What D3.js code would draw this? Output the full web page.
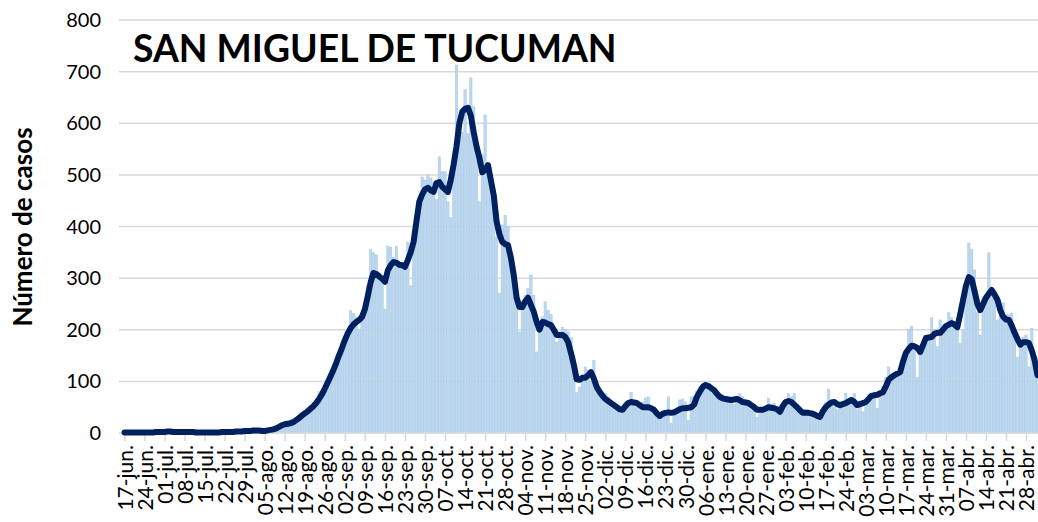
<!DOCTYPE html>
<html>
<head>
<meta charset="utf-8">
<script src="https://cdn.jsdelivr.net/npm/d3@7"></script>
<style>
  body { margin: 0; background: #fff; }
  svg { display: block; font-family: Lato, 'Open Sans', sans-serif; }
</style>
</head>
<body>
<svg id="chart" width="1038" height="522"></svg>
<script>
// daily confirmed cases, starting 17-jun-2020
const startDate = '2020-06-17';

const dailyCases = [
  0, 1, 2, 0, 1, 2, 1,
  1, 0, 2, 1, 3, 2, 1,
  3, 4, 2, 1, 2, 3, 2,
  2, 1, 3, 2, 1, 0, 1,
  1, 2, 0, 1, 1, 2, 3,
  2, 3, 1, 4, 3, 2, 5,
  6, 4, 3, 7, 5, 4, 3,
  5, 4, 8, 7, 10, 14, 16,
  18, 17, 20, 22, 28, 30, 38,
  36, 45, 48, 55, 60, 80, 72,
  90, 95, 115, 120, 140, 150, 170,
  185, 195, 237, 232, 225, 200, 230,
  250, 285, 355, 350, 345, 310, 290,
  240, 362, 360, 340, 362, 325, 320,
  318, 370, 285, 365, 418, 442, 496,
  490, 500, 494, 486, 453, 535, 506,
  506, 448, 417, 539, 713, 600, 583,
  665, 580, 688, 632, 560, 448, 539,
  616, 520, 475, 455, 380, 271, 403,
  422, 400, 345, 300, 267, 196, 254,
  267, 280, 306, 267, 157, 215, 225,
  254, 238, 230, 196, 176, 190, 205,
  200, 196, 185, 150, 78, 89, 103,
  128, 122, 100, 141, 83, 75, 68,
  77, 70, 55, 48, 50, 40, 50,
  58, 60, 79, 55, 50, 52, 60,
  68, 70, 45, 39, 36, 31, 35,
  40, 70, 19, 45, 45, 64, 66,
  60, 25, 70, 70, 80, 89, 95,
  99, 95, 88, 77, 75, 70, 74,
  68, 64, 60, 55, 62, 76, 70,
  64, 58, 55, 50, 31, 40, 45,
  50, 68, 55, 58, 41, 38, 45,
  62, 76, 70, 76, 55, 50, 45,
  45, 41, 39, 38, 36, 25, 45,
  60, 85, 58, 50, 45, 55, 60,
  77, 60, 64, 77, 45, 50, 41,
  55, 74, 70, 77, 48, 77, 90,
  107, 128, 110, 116, 118, 125, 136,
  150, 200, 207, 160, 108, 167, 170,
  174, 185, 223, 200, 167, 219, 205,
  210, 233, 223, 215, 200, 174, 200,
  280, 368, 355, 316, 233, 190, 262,
  262, 349, 280, 264, 219, 240, 252,
  230, 229, 232, 200, 147, 170, 186,
  190, 128, 203, 150, 116
];

// 7-day moving average
const movingAvg = [
  1, 1, 1, 1, 1, 1, 1,
  1, 1, 1, 1, 2, 2, 2,
  2, 3, 3, 2, 2, 2, 2,
  2, 2, 2, 2, 1, 1, 1,
  1, 1, 1, 1, 1, 1, 2,
  2, 2, 2, 2, 3, 3, 3,
  4, 4, 4, 5, 5, 5, 4,
  4, 5, 6, 7, 9, 12, 15,
  17, 18, 19, 21, 25, 29, 34,
  38, 42, 47, 52, 58, 66, 75,
  86, 98, 110, 122, 136, 151, 165,
  180, 193, 203, 210, 215, 219, 225,
  240, 265, 292, 310, 308, 303, 299,
  293, 315, 325, 331, 330, 326, 325,
  322, 335, 350, 370, 410, 448, 462,
  472, 475, 470, 467, 484, 486, 477,
  472, 467, 490, 520, 555, 600, 622,
  628, 630, 615, 583, 555, 533, 505,
  510, 519, 490, 461, 410, 385, 370,
  366, 364, 340, 306, 262, 244, 244,
  255, 262, 248, 235, 215, 200, 215,
  214, 211, 209, 200, 190, 190, 190,
  186, 176, 155, 132, 104, 103, 107,
  107, 112, 118, 105, 89, 80, 72,
  66, 62, 58, 54, 50, 46, 45,
  52, 58, 60, 59, 58, 54, 50,
  50, 50, 48, 45, 38, 33, 37,
  39, 40, 39, 40, 43, 46, 48,
  48, 49, 50, 55, 70, 80, 89,
  93, 91, 87, 83, 76, 70, 67,
  66, 65, 64, 65, 66, 63, 60,
  59, 58, 54, 50, 45, 45, 45,
  47, 50, 49, 48, 46, 41, 52,
  60, 62, 60, 55, 50, 44, 39,
  39, 39, 38, 36, 33, 31, 42,
  50, 55, 59, 60, 56, 54, 56,
  58, 61, 64, 60, 54, 56, 58,
  60, 66, 72, 73, 74, 77, 79,
  90, 103, 108, 112, 115, 118, 138,
  155, 163, 169, 168, 165, 157, 170,
  184, 185, 186, 192, 194, 194, 200,
  207, 210, 213, 210, 205, 230, 258,
  285, 302, 298, 275, 250, 238, 250,
  262, 270, 277, 268, 258, 238, 225,
  220, 219, 208, 194, 182, 171, 176,
  176, 174, 160, 141, 112
];

const tickLabels = [
  '17-jun.', '24-jun.', '01-jul.', '08-jul.', '15-jul.', '22-jul.', '29-jul.',
  '05-ago.', '12-ago.', '19-ago.', '26-ago.', '02-sep.', '09-sep.', '16-sep.',
  '23-sep.', '30-sep.', '07-oct.', '14-oct.', '21-oct.', '28-oct.', '04-nov.',
  '11-nov.', '18-nov.', '25-nov.', '02-dic.', '09-dic.', '16-dic.', '23-dic.',
  '30-dic.', '06-ene.', '13-ene.', '20-ene.', '27-ene.', '03-feb.', '10-feb.',
  '17-feb.', '24-feb.', '03-mar.', '10-mar.', '17-mar.', '24-mar.', '31-mar.',
  '07-abr.', '14-abr.', '21-abr.', '28-abr.'
];

const yTicks = [0, 100, 200, 300, 400, 500, 600, 700, 800];

const svg = d3.select('#chart');
const start = new Date(startDate + 'T00:00:00Z');
const days = dailyCases.map((v, i) => d3.utcDay.offset(start, i));
const tickDates = tickLabels.map((l, i) => d3.utcDay.offset(start, i * 7));

const x = d3.scaleUtc()
  .domain([start, days[days.length - 1]])
  .range([124.5, 1037.5]);

const y = d3.scaleLinear()
  .domain([0, 800])
  .range([433, 20]);

const step = x(days[1]) - x(days[0]);

// gridlines
svg.append('g')
  .selectAll('line')
  .data(yTicks.slice(1))
  .join('line')
  .attr('x1', 119)
  .attr('x2', 1038)
  .attr('y1', d => y(d))
  .attr('y2', d => y(d))
  .attr('stroke', '#d9d9d9')
  .attr('stroke-width', 1.5);

// y tick labels
svg.append('g')
  .selectAll('text')
  .data(yTicks)
  .join('text')
  .attr('x', 101)
  .attr('y', d => y(d))
  .attr('dy', '0.35em')
  .attr('text-anchor', 'end')
  .attr('font-size', 20)
  .attr('fill', '#000')
  .text(d => d);

// daily bars
svg.append('g')
  .selectAll('rect')
  .data(dailyCases)
  .join('rect')
  .attr('x', (d, i) => x(days[i]) - step / 2 + 0.2)
  .attr('width', step - 0.4)
  .attr('y', d => y(d))
  .attr('height', d => y(0) - y(d))
  .attr('fill', '#bdd7ee')
  .attr('stroke', '#9dc3e6')
  .attr('stroke-width', 0.4);

// x axis
const xAxis = svg.append('g')
  .attr('transform', `translate(0, ${y(0)})`)
  .call(d3.axisBottom(x)
    .tickValues(tickDates)
    .tickSize(8)
    .tickFormat((d, i) => tickLabels[i]));

xAxis.select('.domain')
  .attr('d', 'M119,0H1038')
  .attr('stroke', '#d9d9d9')
  .attr('stroke-width', 1.5);

xAxis.selectAll('.tick line')
  .attr('stroke', '#d9d9d9')
  .attr('stroke-width', 1.5);

xAxis.selectAll('.tick text')
  .attr('font-family', 'Lato, sans-serif')
  .attr('font-size', 21)
  .attr('fill', '#000')
  .attr('text-anchor', 'end')
  .attr('transform', 'rotate(-90)')
  .attr('x', -12)
  .attr('y', 0)
  .attr('dy', '0.36em');

// moving average line
const line = d3.line()
  .x((d, i) => x(days[i]))
  .y(d => y(d));

svg.append('path')
  .datum(movingAvg)
  .attr('d', line)
  .attr('fill', 'none')
  .attr('stroke', '#002060')
  .attr('stroke-width', 6)
  .attr('stroke-linejoin', 'round')
  .attr('stroke-linecap', 'round');

// titles
svg.append('text')
  .attr('x', 133)
  .attr('y', 62)
  .attr('font-size', 37.3)
  .attr('font-weight', 'bold')
  .attr('fill', '#000')
  .text('SAN MIGUEL DE TUCUMAN');

svg.append('text')
  .attr('transform', 'translate(32, 227) rotate(-90)')
  .attr('text-anchor', 'middle')
  .attr('font-size', 26)
  .attr('font-weight', 'bold')
  .attr('fill', '#000')
  .text('Número de casos');
</script>
</body>
</html>
